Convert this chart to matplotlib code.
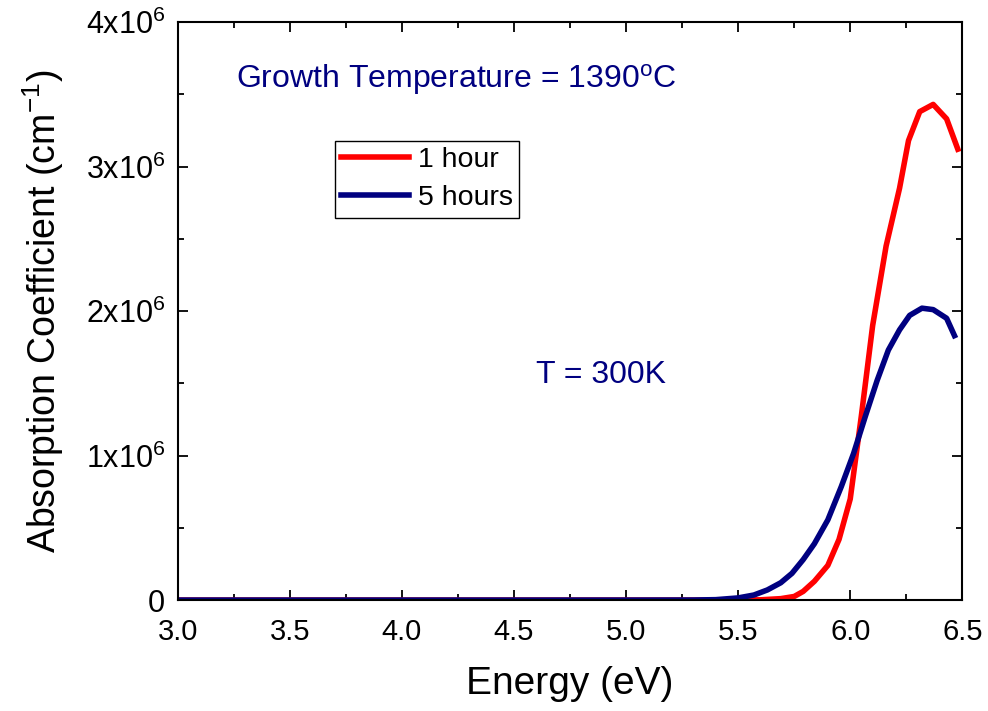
import matplotlib
matplotlib.use("Agg")
import matplotlib.pyplot as plt
import matplotlib.ticker as plticker

plt.rcParams['font.family'] = ['Liberation Sans', 'DejaVu Sans']
plt.rcParams['mathtext.default'] = 'regular'

# energy (eV) and absorption coefficient (cm^-1)
energy_1h = [3.0, 3.5, 4.0, 4.5, 5.0, 5.5, 5.60, 5.69, 5.75, 5.79, 5.84, 5.90, 5.95,
             6.00, 6.05, 6.10, 6.16, 6.22, 6.26, 6.31, 6.37, 6.43, 6.48]
alpha_1h = [0, 0, 0, 0, 0, 0, 0.002e6, 0.01e6, 0.025e6, 0.06e6, 0.13e6, 0.24e6, 0.42e6,
            0.70e6, 1.28e6, 1.9e6, 2.45e6, 2.85e6, 3.18e6, 3.38e6, 3.43e6, 3.33e6, 3.12e6]

energy_5h = [3.0, 3.5, 4.0, 4.5, 5.0, 5.3, 5.40, 5.50, 5.57, 5.63, 5.69, 5.74, 5.79, 5.84,
             5.90, 5.96, 6.015, 6.067, 6.12, 6.17, 6.22, 6.265, 6.32, 6.37, 6.43, 6.465]
alpha_5h = [0, 0, 0, 0, 0, 0.0005e6, 0.003e6, 0.015e6, 0.035e6, 0.07e6, 0.12e6, 0.185e6,
            0.28e6, 0.39e6, 0.555e6, 0.785e6, 1.015e6, 1.27e6, 1.52e6, 1.73e6, 1.87e6,
            1.97e6, 2.02e6, 2.01e6, 1.95e6, 1.83e6]

y_ticks = [0, 1e6, 2e6, 3e6, 4e6]
y_tick_labels = ['0', '1x10$^6$', '2x10$^6$', '3x10$^6$', '4x10$^6$']

fig = plt.figure(figsize=(9.88, 7.11), dpi=100)
ax = fig.add_axes([0.180, 0.156, 0.794, 0.813])

ax.plot(energy_1h, alpha_1h, color='#ff0000', lw=4, label='1 hour')
ax.plot(energy_5h, alpha_5h, color='#000080', lw=4, label='5 hours')

ax.set_xlim(3.0, 6.5)
ax.set_ylim(0, 4e6)
ax.xaxis.set_major_locator(plticker.MultipleLocator(0.5))
ax.xaxis.set_minor_locator(plticker.MultipleLocator(0.25))
ax.xaxis.set_major_formatter(plticker.FormatStrFormatter('%.1f'))
ax.set_yticks(y_ticks)
ax.set_yticklabels(y_tick_labels)
ax.yaxis.set_minor_locator(plticker.MultipleLocator(0.5e6))
ax.tick_params(which='both', direction='in', top=True, right=True)
ax.tick_params(axis='x', labelsize=21, pad=13)
ax.tick_params(axis='y', labelsize=22, pad=9)
ax.tick_params(which='major', length=7, width=1.3)
ax.tick_params(which='minor', length=4, width=1.3)
for s in ax.spines.values():
    s.set_linewidth(1.5)

ax.set_xlabel('Energy (eV)', fontsize=28, labelpad=14)
ax.set_ylabel('Absorption Coefficient (cm$^{-1}$)', fontsize=27, labelpad=14)

ax.text(3.26, 3.6e6, 'Growth Temperature = 1390$^o$C', fontsize=23, color='#000080',
        ha='left', va='center')
ax.text(4.60, 1.56e6, 'T = 300K', fontsize=23, color='#000080', ha='left', va='center')

leg = ax.legend(loc='upper left', bbox_to_anchor=(0.2, 0.794), fontsize=20.5, handlelength=2.4,
                fancybox=False, framealpha=1, edgecolor='black', borderpad=0.22,
                labelspacing=0.42, handletextpad=0.3, borderaxespad=0)
leg.get_frame().set_linewidth(1.0)

fig.savefig('out.png', dpi=100)
